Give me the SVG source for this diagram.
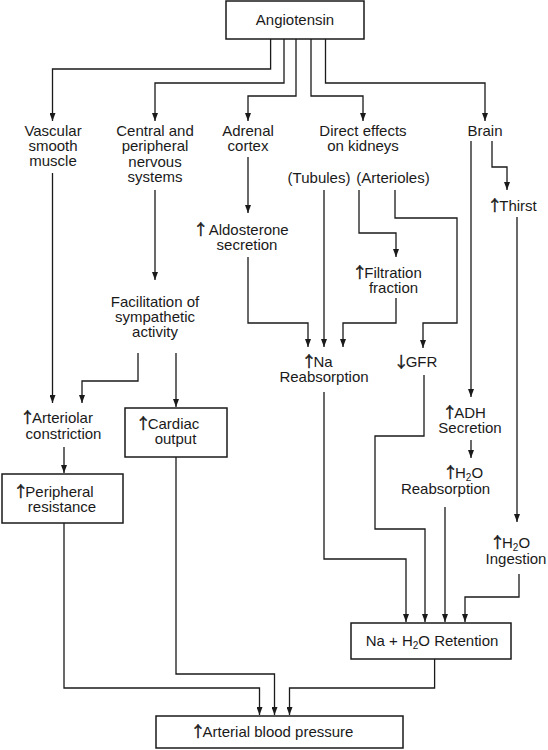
<svg xmlns="http://www.w3.org/2000/svg" width="548" height="750" viewBox="0 0 548 750">
<style>
text{font-family:"Liberation Sans",Arial,sans-serif;font-size:15px;fill:#1a1a1a;text-anchor:middle}
.ar{font-family:"Noto Sans CJK JP","DejaVu Sans",sans-serif;letter-spacing:-3px;stroke:#1a1a1a;stroke-width:0.5}
.box{fill:#fff;stroke:#1a1a1a;stroke-width:1.5}
.c path{fill:none;stroke:#1a1a1a;stroke-width:1.3;marker-end:url(#ah)}
.sub{font-size:10px}
</style>
<defs>
<marker id="ah" markerUnits="userSpaceOnUse" markerWidth="8" markerHeight="6" refX="8" refY="3" orient="auto">
<path d="M0,0 L8,3 L0,6 z" fill="#1a1a1a"/>
</marker>
</defs>
<rect width="548" height="750" fill="#fff"/>
<g class="c" id="connectors">
<path d="M270.6,39 V69 H52.5 V121"/>
<path d="M284,39 V83 H155 V121"/>
<path d="M296,39 V96 H248 V121"/>
<path d="M311,39 V96 H363 V121"/>
<path d="M325.5,39 V83 H485 V121"/>
<path d="M52.5,173 V403"/>
<path d="M155,190 V280"/>
<path d="M248,157 V213"/>
<path d="M248,257 V323 H308 V347"/>
<path d="M324,190 V347"/>
<path d="M359,190 V233 H396 V257"/>
<path d="M395,190 V218 H457 V323 H423 V348"/>
<path d="M396,298 V323 H343 V347"/>
<path d="M471,141 V397"/>
<path d="M492,141 V167 H507 V190"/>
<path d="M517,217 V522"/>
<path d="M138,353 V381 H82 V403"/>
<path d="M176,353 V407"/>
<path d="M64,447 V473"/>
<path d="M471,440 V458"/>
<path d="M324,392 V559 H406 V622"/>
<path d="M424,375 V436 H375 V529 H425 V622"/>
<path d="M445,507 V622"/>
<path d="M519,574 V597 H465 V622"/>
<path d="M64,523 V688 H259.5 V715"/>
<path d="M176,457 V674 H274.5 V715"/>
<path d="M434.6,659 V688 H289.5 V715"/>
</g>
<g id="angiotensin"><rect class="box" x="226" y="1" width="138" height="38"/><text x="295" y="25">Angiotensin</text></g>
<g id="vascular"><text x="53" y="136">Vascular</text><text x="53" y="151">smooth</text><text x="53" y="166">muscle</text></g>
<g id="cns"><text x="155" y="136">Central and</text><text x="155" y="151">peripheral</text><text x="155" y="166.5">nervous</text><text x="155" y="182">systems</text></g>
<g id="adrenal"><text x="248" y="136">Adrenal</text><text x="248" y="151">cortex</text></g>
<g id="kidneys"><text x="363" y="136">Direct effects</text><text x="363" y="151">on kidneys</text></g>
<g id="tubules"><text x="319" y="183">(Tubules)</text></g>
<g id="arterioles"><text x="393" y="183">(Arterioles)</text></g>
<g id="brain"><text x="485" y="136">Brain</text></g>
<g id="thirst"><text x="512" y="211"><tspan class="ar">↑</tspan>Thirst</text></g>
<g id="aldosterone"><text x="241" y="235"><tspan class="ar">↑</tspan> Aldosterone</text><text x="247" y="250">secretion</text></g>
<g id="filtration"><text x="387" y="277.5"><tspan class="ar">↑</tspan>Filtration</text><text x="393.5" y="292.5">fraction</text></g>
<g id="facilitation"><text x="155" y="307">Facilitation of</text><text x="155" y="322">sympathetic</text><text x="155" y="337">activity</text></g>
<g id="na-reabsorption"><text x="317" y="367"><tspan class="ar">↑</tspan>Na</text><text x="324" y="382">Reabsorption</text></g>
<g id="gfr"><text x="415.5" y="367"><tspan class="ar">↓</tspan>GFR</text></g>
<g id="adh"><text x="464" y="418"><tspan class="ar">↑</tspan>ADH</text><text x="470" y="433">Secretion</text></g>
<g id="h2o-reabsorption"><text x="463" y="478"><tspan class="ar">↑</tspan>H<tspan class="sub" dy="3">2</tspan><tspan dy="-3">O</tspan></text><text x="445.5" y="494">Reabsorption</text></g>
<g id="h2o-ingestion"><text x="510" y="548"><tspan class="ar">↑</tspan>H<tspan class="sub" dy="3">2</tspan><tspan dy="-3">O</tspan></text><text x="516" y="564">Ingestion</text></g>
<g id="arteriolar"><text x="56.5" y="423"><tspan class="ar">↑</tspan>Arteriolar</text><text x="63.5" y="439">constriction</text></g>
<g id="peripheral"><rect class="box" x="2" y="474" width="121" height="49"/><text x="53.5" y="497"><tspan class="ar">↑</tspan>Peripheral</text><text x="62" y="512">resistance</text></g>
<g id="cardiac"><rect class="box" x="125" y="408" width="102" height="49"/><text x="167.5" y="429"><tspan class="ar">↑</tspan>Cardiac</text><text x="175.5" y="443.5">output</text></g>
<g id="retention"><rect class="box" x="351" y="623" width="160" height="36"/><text x="432" y="646">Na + H<tspan class="sub" dy="3">2</tspan><tspan dy="-3">O Retention</tspan></text></g>
<g id="arterial-bp"><rect class="box" x="156" y="716" width="247" height="32"/><text x="272" y="737"><tspan class="ar">↑</tspan>Arterial blood pressure</text></g>
</svg>
